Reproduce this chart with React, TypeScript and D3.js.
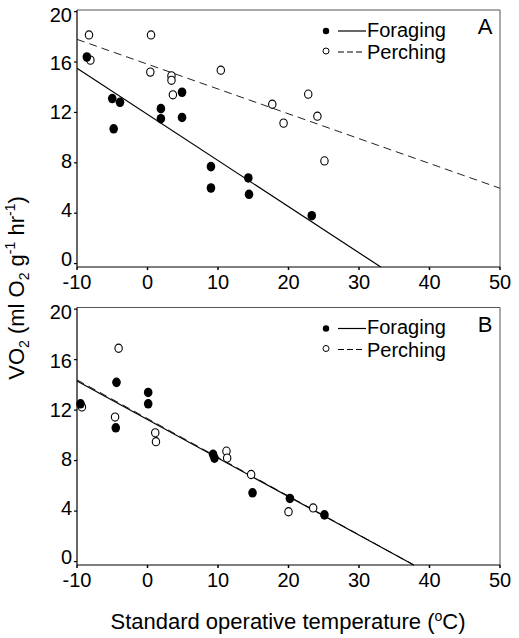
import React from "react";
import * as d3 from "d3";

// ---------- data ----------
const xTicks = [-10, 0, 10, 20, 30, 40, 50];
const yTicks = [0, 4, 8, 12, 16, 20];

// Panel A
const aForagingX = [-8.6, -5.0, -3.9, -4.8, 1.9, 1.9, 4.9, 4.9, 9.0, 9.0, 14.3, 14.4, 23.3];
const aForagingY = [16.4, 13.1, 12.8, 10.7, 12.3, 11.5, 13.6, 11.6, 7.7, 6.0, 6.8, 5.5, 3.8];
const aPerchingX = [-8.3, 0.5, -8.1, 0.4, 3.4, 3.4, 3.6, 10.4, 17.7, 19.3, 22.8, 24.1, 25.1];
const aPerchingY = [18.15, 18.15, 16.15, 15.2, 14.9, 14.55, 13.4, 15.35, 12.65, 11.15, 13.45, 11.7, 8.15];

// Panel B
const bForagingX = [-9.5, -4.4, -4.5, 0.1, 0.1, 9.3, 9.5, 14.9, 20.2, 25.1];
const bForagingY = [12.5, 14.2, 10.6, 13.4, 12.5, 8.5, 8.2, 5.45, 5.0, 3.7];
const bPerchingX = [-9.3, -4.1, -4.6, 1.1, 1.2, 11.2, 11.3, 14.7, 20.0, 23.5];
const bPerchingY = [12.25, 16.9, 11.45, 10.2, 9.5, 8.75, 8.2, 6.9, 3.95, 4.25];

// Regression lines [intercept, slope]
const aForagingFit = [11.84, -0.366];
const aPerchingFit = [15.83, -0.197];
const bForagingFit = [11.25, -0.305];
const bPerchingFit = [11.33, -0.307];

const legendLabels = ["Foraging", "Perching"];
const panelLabels = ["A", "B"];

// ---------- layout ----------
const W = 519;
const H = 638;
const FONT = "'Liberation Sans', Arial, Helvetica, sans-serif";
const xScale = d3.scaleLinear().domain([-10, 50]).range([77, 500]);
const yDomain: [number, number] = [-0.27, 20.13];
// label offset: labels sit slightly below tick at top, above tick at bottom
const labelShift = d3.scaleLinear().domain([0, 20]).range([-5, 3]);

function fitLine(fit: number[], y: d3.ScaleLinear<number, number>) {
  const [b0, b1] = fit;
  const x0 = -10;
  let x1 = 50;
  const yAt = (x: number) => b0 + b1 * x;
  if (yAt(x1) < yDomain[0]) x1 = (yDomain[0] - b0) / b1;
  const pts: [number, number][] = [
    [x0, yAt(x0)],
    [x1, yAt(x1)],
  ];
  return d3
    .line<[number, number]>()
    .x((d) => xScale(d[0]))
    .y((d) => y(d[1]))(pts) as string;
}

function Panel({
  top,
  bottom,
  label,
  fx,
  fy,
  px,
  py,
  ffit,
  pfit,
}: {
  top: number;
  bottom: number;
  label: string;
  fx: number[];
  fy: number[];
  px: number[];
  py: number[];
  ffit: number[];
  pfit: number[];
}) {
  const y = d3.scaleLinear().domain(yDomain).range([bottom, top]);
  const [x0, x1] = xScale.range();
  return (
    <g>
      {/* frame */}
      <line x1={x0} x2={x1} y1={top} y2={top} stroke="#555" strokeWidth={1} />
      <line x1={x1} x2={x1} y1={top} y2={bottom} stroke="#555" strokeWidth={1} />
      <line x1={x0} x2={x0} y1={top} y2={bottom} stroke="#000" strokeWidth={1.2} />
      <line x1={x0} x2={x1} y1={bottom} y2={bottom} stroke="#000" strokeWidth={1.2} />
      {/* y ticks */}
      {yTicks.map((t) => (
        <g key={"y" + t}>
          <line x1={x0 - 3} x2={x0} y1={y(t)} y2={y(t)} stroke="#000" strokeWidth={1.2} />
          <text
            x={x0 - 5}
            y={y(t) + labelShift(t)}
            dy="0.35em"
            textAnchor="end"
            fontSize={20}
            fontFamily={FONT}
          >
            {t}
          </text>
        </g>
      ))}
      {/* x ticks */}
      {xTicks.map((t) => (
        <g key={"x" + t}>
          <line x1={xScale(t)} x2={xScale(t)} y1={bottom} y2={bottom + 3} stroke="#000" strokeWidth={1.5} />
          <text
            x={xScale(t)}
            y={bottom + 22}
            textAnchor="middle"
            fontSize={20}
            fontFamily={FONT}
          >
            {t}
          </text>
        </g>
      ))}
      {/* regression lines */}
      <path d={fitLine(pfit, y)} fill="none" stroke="#222" strokeWidth={1} strokeDasharray="8,5" />
      <path d={fitLine(ffit, y)} fill="none" stroke="#000" strokeWidth={1.2} />
      {/* points */}
      {px.map((v, i) => (
        <ellipse key={"p" + i} cx={xScale(v)} cy={y(py[i])} rx={3.7} ry={4.1} fill="#fff" stroke="#000" strokeWidth={1.1} />
      ))}
      {fx.map((v, i) => (
        <ellipse key={"f" + i} cx={xScale(v)} cy={y(fy[i])} rx={4.3} ry={4.8} fill="#000" />
      ))}
      {/* legend */}
      <circle cx={326} cy={top + 21} r={3.2} fill="#000" />
      <line x1={338} x2={366} y1={top + 21} y2={top + 21} stroke="#000" strokeWidth={1.2} />
      <text x={367} y={top + 26.5} fontSize={20} fontFamily={FONT}>
        {legendLabels[0]}
      </text>
      <circle cx={326} cy={top + 41} r={3} fill="#fff" stroke="#000" strokeWidth={1} />
      <line x1={338} x2={364} y1={top + 42} y2={top + 42} stroke="#000" strokeWidth={1.2} strokeDasharray="6,3" />
      <text x={367} y={top + 49} fontSize={20} fontFamily={FONT}>
        {legendLabels[1]}
      </text>
      <text x={485} y={top + 24} textAnchor="middle" fontSize={22} fontFamily={FONT}>
        {label}
      </text>
    </g>
  );
}

export default function App() {
  return (
    <svg
      width={W}
      height={H}
      viewBox={`0 0 ${W} ${H}`}
      style={{ position: "absolute", left: 0, top: 0, background: "#fff" }}
    >
      <rect x={0} y={0} width={W} height={H} fill="#fff" />
      <Panel
        top={10}
        bottom={267}
        label={panelLabels[0]}
        fx={aForagingX}
        fy={aForagingY}
        px={aPerchingX}
        py={aPerchingY}
        ffit={aForagingFit}
        pfit={aPerchingFit}
      />
      <Panel
        top={307.5}
        bottom={565}
        label={panelLabels[1]}
        fx={bForagingX}
        fy={bForagingY}
        px={bPerchingX}
        py={bPerchingY}
        ffit={bForagingFit}
        pfit={bPerchingFit}
      />
      {/* x-axis title */}
      <text x={288} y={629} textAnchor="middle" fontSize={22} fontFamily={FONT}>
        Standard operative temperature (
        <tspan fontSize={14} dy={-8}>o</tspan>
        <tspan dy={8}>C)</tspan>
      </text>
      {/* y-axis title */}
      <text
        transform="translate(24,288) rotate(-90)"
        textAnchor="middle"
        fontSize={22}
        fontFamily={FONT}
      >
        VO
        <tspan fontSize={14} dy={5}>2</tspan>
        <tspan dy={-5}> (ml O</tspan>
        <tspan fontSize={14} dy={5}>2</tspan>
        <tspan dy={-5}> g</tspan>
        <tspan fontSize={14} dy={-9}>-1</tspan>
        <tspan dy={9}> hr</tspan>
        <tspan fontSize={14} dy={-9}>-1</tspan>
        <tspan dy={9}>)</tspan>
      </text>
    </svg>
  );
}
